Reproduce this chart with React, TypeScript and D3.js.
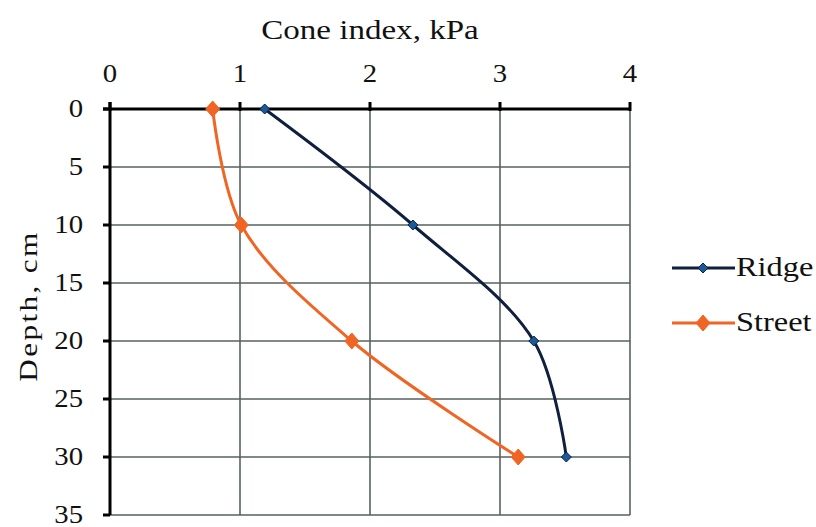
import React from 'react';
import * as d3 from 'd3';

const depths = [0, 10, 20, 30];
const ridgeValues = [1.19, 2.33, 3.26, 3.51];
const streetValues = [0.79, 1.01, 1.86, 3.14];
const xTicks = [0, 1, 2, 3, 4];
const yTicks = [0, 5, 10, 15, 20, 25, 30, 35];

const series = [
  { name: 'Ridge', values: ridgeValues, color: '#0f1f3d', marker: '#1a5a9a', w: 5, h: 5 },
  { name: 'Street', values: streetValues, color: '#f06524', marker: '#f06524', w: 7, h: 8 },
];

const font = '"Liberation Serif", "Times New Roman", serif';

// text stretched horizontally, like the original scan
const T = ({ x, y, size, anchor = 'start', sx = 1.15, rotate = 0, spacing = 0, children }: any) => (
  <g transform={`translate(${x},${y}) rotate(${rotate}) scale(${sx},1)`}>
    <text textAnchor={anchor} fontFamily={font} fontSize={size} letterSpacing={spacing} fill="#111">
      {children}
    </text>
  </g>
);

export default function App() {
  const left = 110;
  const right = 630;
  const top = 109;
  const bottom = 515;

  const x = d3.scaleLinear().domain([0, 4]).range([left, right]);
  const y = d3.scaleLinear().domain([0, 35]).range([top, bottom]);

  const line = d3
    .line<[number, number]>()
    .x((d) => x(d[0]))
    .y((d) => y(d[1]))
    .curve(d3.curveCatmullRom.alpha(0.5));

  const diamond = (cx: number, cy: number, w: number, h: number) =>
    `M${cx},${cy - h}L${cx + w},${cy}L${cx},${cy + h}L${cx - w},${cy}Z`;

  return (
    <svg width={816} height={527} style={{ position: 'absolute', left: 0, top: 0, background: '#fff' }}>
      {/* grid */}
      {xTicks.slice(1).map((t) => (
        <line key={'gx' + t} x1={x(t)} x2={x(t)} y1={top} y2={bottom} stroke="#56625f" strokeWidth={1.6} />
      ))}
      {yTicks.slice(1).map((t) => (
        <line key={'gy' + t} x1={left} x2={right} y1={y(t)} y2={y(t)} stroke="#56625f" strokeWidth={1.6} />
      ))}

      {/* axes */}
      <line x1={left - 7} x2={right} y1={top} y2={top} stroke="#000" strokeWidth={3} />
      <line x1={left} x2={left} y1={top - 7} y2={bottom} stroke="#000" strokeWidth={3} />
      {xTicks.map((t) => (
        <line key={'tx' + t} x1={x(t)} x2={x(t)} y1={top - 7} y2={top + 2} stroke="#000" strokeWidth={3} />
      ))}
      {yTicks.map((t) => (
        <line key={'ty' + t} x1={left - 7} x2={left} y1={y(t)} y2={y(t)} stroke="#000" strokeWidth={3} />
      ))}

      {/* tick labels */}
      {xTicks.map((t) => (
        <T key={'lx' + t} x={x(t)} y={82} size={25} anchor="middle">
          {t}
        </T>
      ))}
      {yTicks.map((t) => (
        <T key={'ly' + t} x={83} y={Math.min(y(t) + 8, 524)} size={25} anchor="end">
          {t}
        </T>
      ))}

      {/* titles */}
      <T x={370} y={39} size={28} anchor="middle" sx={1.18}>
        Cone index, kPa
      </T>
      <T x={37} y={306} size={26} anchor="middle" sx={1.2} spacing={2} rotate={-90}>
        Depth, cm
      </T>

      {/* series */}
      {series.map((s) => {
        const pts: [number, number][] = s.values.map((v, i) => [v, depths[i]]);
        return (
          <g key={s.name}>
            <path d={line(pts) || ''} fill="none" stroke={s.color} strokeWidth={3} />
            {pts.map((p, i) => (
              <path key={i} d={diamond(x(p[0]), y(p[1]), s.w, s.h)} fill={s.marker} stroke={s.color} strokeWidth={1} />
            ))}
          </g>
        );
      })}

      {/* legend */}
      {series.map((s, i) => {
        const ly = 268 + i * 55;
        return (
          <g key={'leg' + s.name}>
            <line x1={672} x2={735} y1={ly} y2={ly} stroke={s.color} strokeWidth={3} />
            <path d={diamond(703, ly, s.w, s.h)} fill={s.marker} stroke={s.color} strokeWidth={1} />
            <T x={736} y={ly + 8} size={27} sx={1.2}>
              {s.name}
            </T>
          </g>
        );
      })}
    </svg>
  );
}
